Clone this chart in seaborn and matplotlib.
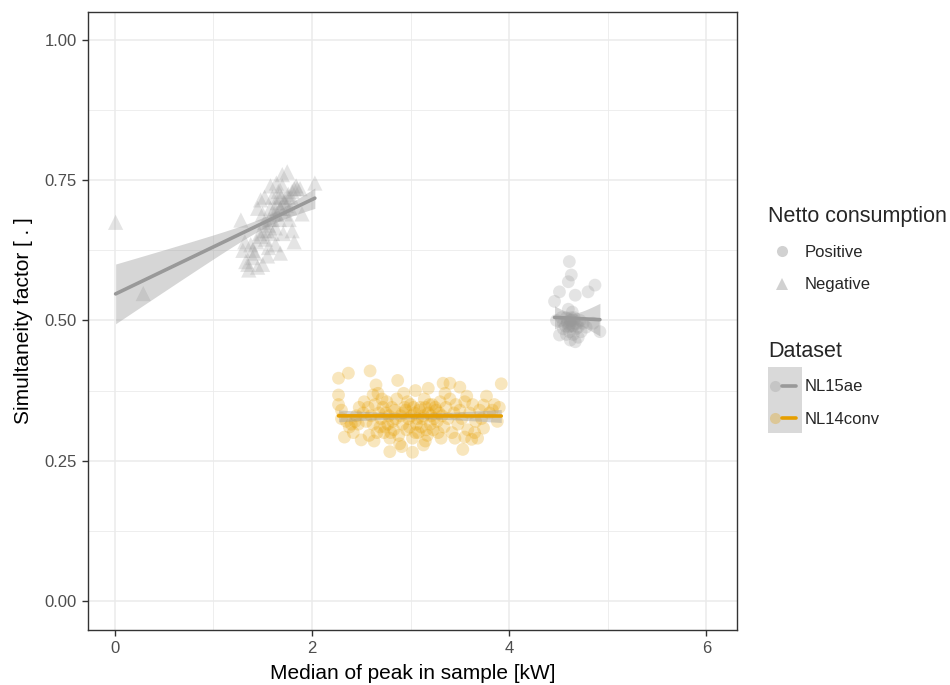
import numpy as np
import pandas as pd
import matplotlib
matplotlib.use("Agg")
import matplotlib.pyplot as plt
from matplotlib.lines import Line2D
from matplotlib.patches import Rectangle
from matplotlib.legend_handler import HandlerTuple
import seaborn as sns

# ---------------- data ----------------
# NL15ae, negative netto consumption (triangles)
neg_x = [0.01, 0.29, 1.30, 1.33, 1.36, 1.40, 1.45, 1.38, 1.50, 1.42, 1.55, 1.32,
         1.28, 1.45, 1.48, 1.50, 1.52, 1.55, 1.47, 1.53, 1.57, 1.58, 1.60, 1.62,
         1.63, 1.65, 1.66, 1.67, 1.68, 1.70, 1.70, 1.72, 1.73, 1.74, 1.75, 1.76,
         1.77, 1.78, 1.80, 1.82, 1.82, 1.85, 1.88, 1.90, 1.60, 1.56, 1.63, 1.68,
         1.71, 1.64, 1.69, 1.79, 2.03, 1.52, 1.58,
         1.35, 1.40, 1.44, 1.48, 1.52, 1.56, 1.60, 1.64, 1.68, 1.72, 1.76, 1.80,
         1.84, 1.62, 1.66]
neg_y = [0.675, 0.548, 0.625, 0.605, 0.590, 0.612, 0.595, 0.635, 0.600, 0.620, 0.615, 0.640,
         0.679, 0.700, 0.715, 0.690, 0.675, 0.660, 0.655, 0.645, 0.680, 0.700, 0.720, 0.690,
         0.665, 0.710, 0.730, 0.680, 0.700, 0.740, 0.760, 0.715, 0.690, 0.705, 0.765, 0.725,
         0.680, 0.700, 0.660, 0.640, 0.735, 0.735, 0.735, 0.690, 0.655, 0.630, 0.635, 0.620,
         0.655, 0.745, 0.720, 0.720, 0.745, 0.720, 0.740,
         0.600, 0.625, 0.640, 0.650, 0.660, 0.670, 0.680, 0.690, 0.700, 0.710, 0.720, 0.730,
         0.740, 0.700, 0.720]

# NL15ae, positive netto consumption (grey circles)
pos15_x = [4.61, 4.63, 4.60, 4.87, 4.80, 4.51, 4.67, 4.46, 4.92, 4.51, 4.67,
           4.55, 4.58, 4.62, 4.65, 4.60, 4.63, 4.66, 4.59, 4.62, 4.64, 4.68, 4.61,
           4.65, 4.70, 4.57, 4.53, 4.72, 4.75, 4.78, 4.60, 4.64, 4.67, 4.58, 4.62,
           4.55, 4.48, 4.70, 4.73, 4.85, 4.66, 4.61, 4.63, 4.59, 4.69]
pos15_y = [0.605, 0.581, 0.569, 0.563, 0.551, 0.551, 0.545, 0.534, 0.480, 0.474, 0.462,
           0.495, 0.505, 0.500, 0.490, 0.488, 0.505, 0.500, 0.498, 0.495, 0.490, 0.485, 0.480,
           0.475, 0.470, 0.490, 0.505, 0.500, 0.495, 0.488, 0.520, 0.515, 0.495, 0.475, 0.465,
           0.485, 0.500, 0.488, 0.480, 0.495, 0.505, 0.490, 0.500, 0.495, 0.495]

# NL14conv, positive netto consumption (orange circles)
conv_x = [2.27, 2.37, 2.59, 2.65, 2.87, 2.27, 2.27, 2.30, 2.33, 2.62, 2.50, 2.79, 2.91, 3.02,
          3.18, 3.33, 3.40, 3.50, 3.92, 3.77, 3.74, 3.74, 3.55, 3.62, 3.68, 3.53, 3.13,
          2.40, 2.45, 2.48, 2.52, 2.55, 2.57, 2.60, 2.62, 2.64, 2.66, 2.68, 2.70, 2.72, 2.74,
          2.76, 2.78, 2.80, 2.82, 2.84, 2.86, 2.88, 2.90, 2.92, 2.94, 2.96, 2.98, 3.00, 3.02,
          3.04, 3.06, 3.08, 3.10, 3.12, 3.14, 3.16, 3.18, 3.20, 3.22, 3.24, 3.26, 3.28, 3.30,
          3.32, 3.34, 3.36, 3.38, 3.40, 3.42, 3.44, 3.46, 3.48, 3.50, 3.52, 3.55, 3.58, 3.60,
          3.63, 3.66, 3.70, 3.80, 3.85, 3.90,
          2.92, 2.95, 2.97, 2.99, 3.01, 3.03, 3.05, 3.07, 3.09, 3.11, 3.13, 3.15, 2.85, 2.83,
          2.81, 2.79, 2.77, 2.75, 2.73, 2.71, 3.17, 3.19, 3.21, 3.23, 3.25, 3.27, 3.29, 3.31,
          2.35, 2.42, 2.47, 2.53, 2.58, 2.63, 2.67, 2.69, 2.89, 2.93, 3.05, 3.15, 3.35, 3.45,
          3.57, 3.65, 3.72, 3.83, 2.38, 2.30, 2.44, 3.88]
conv_y = [0.397, 0.406, 0.410, 0.385, 0.393, 0.367, 0.350, 0.325, 0.292, 0.367, 0.287, 0.266, 0.275, 0.265,
          0.379, 0.388, 0.388, 0.381, 0.387, 0.365, 0.349, 0.308, 0.292, 0.288, 0.290, 0.270, 0.278,
          0.315, 0.330, 0.345, 0.335, 0.320, 0.345, 0.330, 0.315, 0.350, 0.300, 0.335, 0.325, 0.345, 0.310,
          0.355, 0.330, 0.300, 0.320, 0.340, 0.360, 0.295, 0.330, 0.315, 0.345, 0.305, 0.325, 0.350, 0.290,
          0.335, 0.315, 0.300, 0.345, 0.325, 0.360, 0.305, 0.335, 0.315, 0.350, 0.325, 0.340, 0.300, 0.355,
          0.330, 0.310, 0.345, 0.325, 0.360, 0.300, 0.335, 0.350, 0.315, 0.340, 0.325, 0.355, 0.305, 0.335,
          0.350, 0.320, 0.340, 0.335, 0.350, 0.345,
          0.335, 0.340, 0.355, 0.310, 0.330, 0.345, 0.300, 0.325, 0.340, 0.310, 0.330, 0.345, 0.325, 0.305,
          0.345, 0.290, 0.315, 0.335, 0.300, 0.360, 0.295, 0.350, 0.330, 0.305, 0.345, 0.320, 0.335, 0.290,
          0.320, 0.300, 0.315, 0.355, 0.295, 0.285, 0.370, 0.310, 0.280, 0.370, 0.375, 0.285, 0.370, 0.290,
          0.365, 0.300, 0.325, 0.340, 0.310, 0.340, 0.320, 0.320]

netto_levels = ["Positive", "Negative"]
dataset_levels = ["NL15ae", "NL14conv"]
x_ticks = [0, 2, 4, 6]
y_ticks = [0.00, 0.25, 0.50, 0.75, 1.00]
palette = {"NL15ae": "#999999", "NL14conv": "#E69F00"}
markers = {"Positive": "o", "Negative": "^"}

df = pd.concat([
    pd.DataFrame({"x": neg_x, "y": neg_y, "Dataset": "NL15ae", "Netto": "Negative"}),
    pd.DataFrame({"x": pos15_x, "y": pos15_y, "Dataset": "NL15ae", "Netto": "Positive"}),
    pd.DataFrame({"x": conv_x, "y": conv_y, "Dataset": "NL14conv", "Netto": "Positive"}),
], ignore_index=True)


def t975(df_):
    z = 1.959964
    return (z + (z**3 + z) / (4 * df_) + (5 * z**5 + 16 * z**3 + 3 * z) / (96 * df_**2)
            + (3 * z**7 + 19 * z**5 + 17 * z**3 - 15 * z) / (384 * df_**3))


def lm_band(x, y, grid):
    x = np.asarray(x, float)
    y = np.asarray(y, float)
    n = len(x)
    b, a = np.polyfit(x, y, 1)
    resid = y - (a + b * x)
    s = np.sqrt(np.sum(resid**2) / (n - 2))
    sxx = np.sum((x - x.mean())**2)
    se = s * np.sqrt(1 / n + (grid - x.mean())**2 / sxx)
    fit = a + b * grid
    t = t975(n - 2)
    return fit - t * se, fit + t * se


# ---------------- style ----------------
sns.set_theme(style="white")
plt.rcParams["font.family"] = ["Liberation Sans", "DejaVu Sans"]

fig = plt.figure(figsize=(9.5, 6.85), dpi=100)
ax = fig.add_axes([88 / 950, 1 - 630 / 685, (737 - 88) / 950, (630 - 12) / 685])

for nt, size in [("Positive", 85), ("Negative", 120)]:
    sub = df[df["Netto"] == nt]
    sns.scatterplot(data=sub, x="x", y="y", hue="Dataset", style="Netto",
                    palette=palette, markers=markers, s=size, alpha=0.26,
                    linewidth=0, legend=False, ax=ax, zorder=3)

for (ds, nt), sub in df.groupby(["Dataset", "Netto"]):
    grid = np.linspace(sub["x"].min(), sub["x"].max(), 100)
    lo, hi = lm_band(sub["x"], sub["y"], grid)
    ax.fill_between(grid, lo, hi, facecolor="#999999", alpha=0.4, linewidth=0, zorder=4)
    sns.regplot(data=sub, x="x", y="y", scatter=False, ci=None, ax=ax,
                color=palette[ds], line_kws={"linewidth": 2.6, "zorder": 5})

ax.set_xlim(-0.27, 6.31)
ax.set_ylim(-0.052, 1.05)
ax.set_xticks(x_ticks)
ax.set_yticks(y_ticks)
ax.set_yticklabels([f"{v:.2f}" for v in y_ticks])
ax.set_xticks([1, 3, 5], minor=True)
ax.set_yticks([0.125, 0.375, 0.625, 0.875], minor=True)
ax.grid(True, which="major", color="#EBEBEB", linewidth=1.1, zorder=0)
ax.grid(True, which="minor", color="#EBEBEB", linewidth=0.6, zorder=0)
ax.set_axisbelow(True)
for sp in ax.spines.values():
    sp.set_color("#333333")
    sp.set_linewidth(1.0)
ax.tick_params(which="major", length=4.5, width=1.0, color="#333333", pad=3.5,
               labelsize=12, labelcolor="#4D4D4D", direction="out",
               bottom=True, left=True)
ax.tick_params(which="minor", length=0)
ax.set_xlabel("Median of peak in sample [kW]", fontsize=15, color="black", labelpad=6)
ax.set_ylabel("Simultaneity factor [ . ]", fontsize=15, color="black", labelpad=8)

# ---------------- legends ----------------
h_pos = Line2D([], [], marker="o", linestyle="none", color="#999999", alpha=0.45,
               markersize=8, markeredgewidth=0)
h_neg = Line2D([], [], marker="^", linestyle="none", color="#999999", alpha=0.45,
               markersize=9, markeredgewidth=0)
leg1 = fig.legend([h_pos, h_neg], netto_levels, title="Netto consumption",
                  loc="upper left", bbox_to_anchor=(768 / 950, 1 - 206 / 685),
                  frameon=False, fontsize=12, title_fontsize=15.5, alignment="left",
                  handlelength=1.7, handletextpad=0.5, labelspacing=1.06,
                  borderpad=0, borderaxespad=0)

fig.patches.append(Rectangle((768 / 950, 1 - 433 / 685), 34 / 950, 66 / 685,
                             transform=fig.transFigure, facecolor="#D9D9D9",
                             edgecolor="none", zorder=0))
hd = []
for ds in dataset_levels:
    pt = Line2D([], [], marker="o", linestyle="none", color=palette[ds], alpha=0.3,
                markersize=8, markeredgewidth=0)
    ln = Line2D([], [], color=palette[ds], linewidth=2.6)
    hd.append((pt, ln))
leg2 = fig.legend(hd, dataset_levels, title="Dataset",
                  loc="upper left", bbox_to_anchor=(768 / 950, 1 - 341 / 685),
                  frameon=False, fontsize=12, title_fontsize=15.5, alignment="left",
                  handlelength=1.7, handletextpad=0.5, labelspacing=1.04,
                  borderpad=0, borderaxespad=0,
                  handler_map={tuple: HandlerTuple(ndivide=None)})

fig.savefig("out.png", dpi=100)
